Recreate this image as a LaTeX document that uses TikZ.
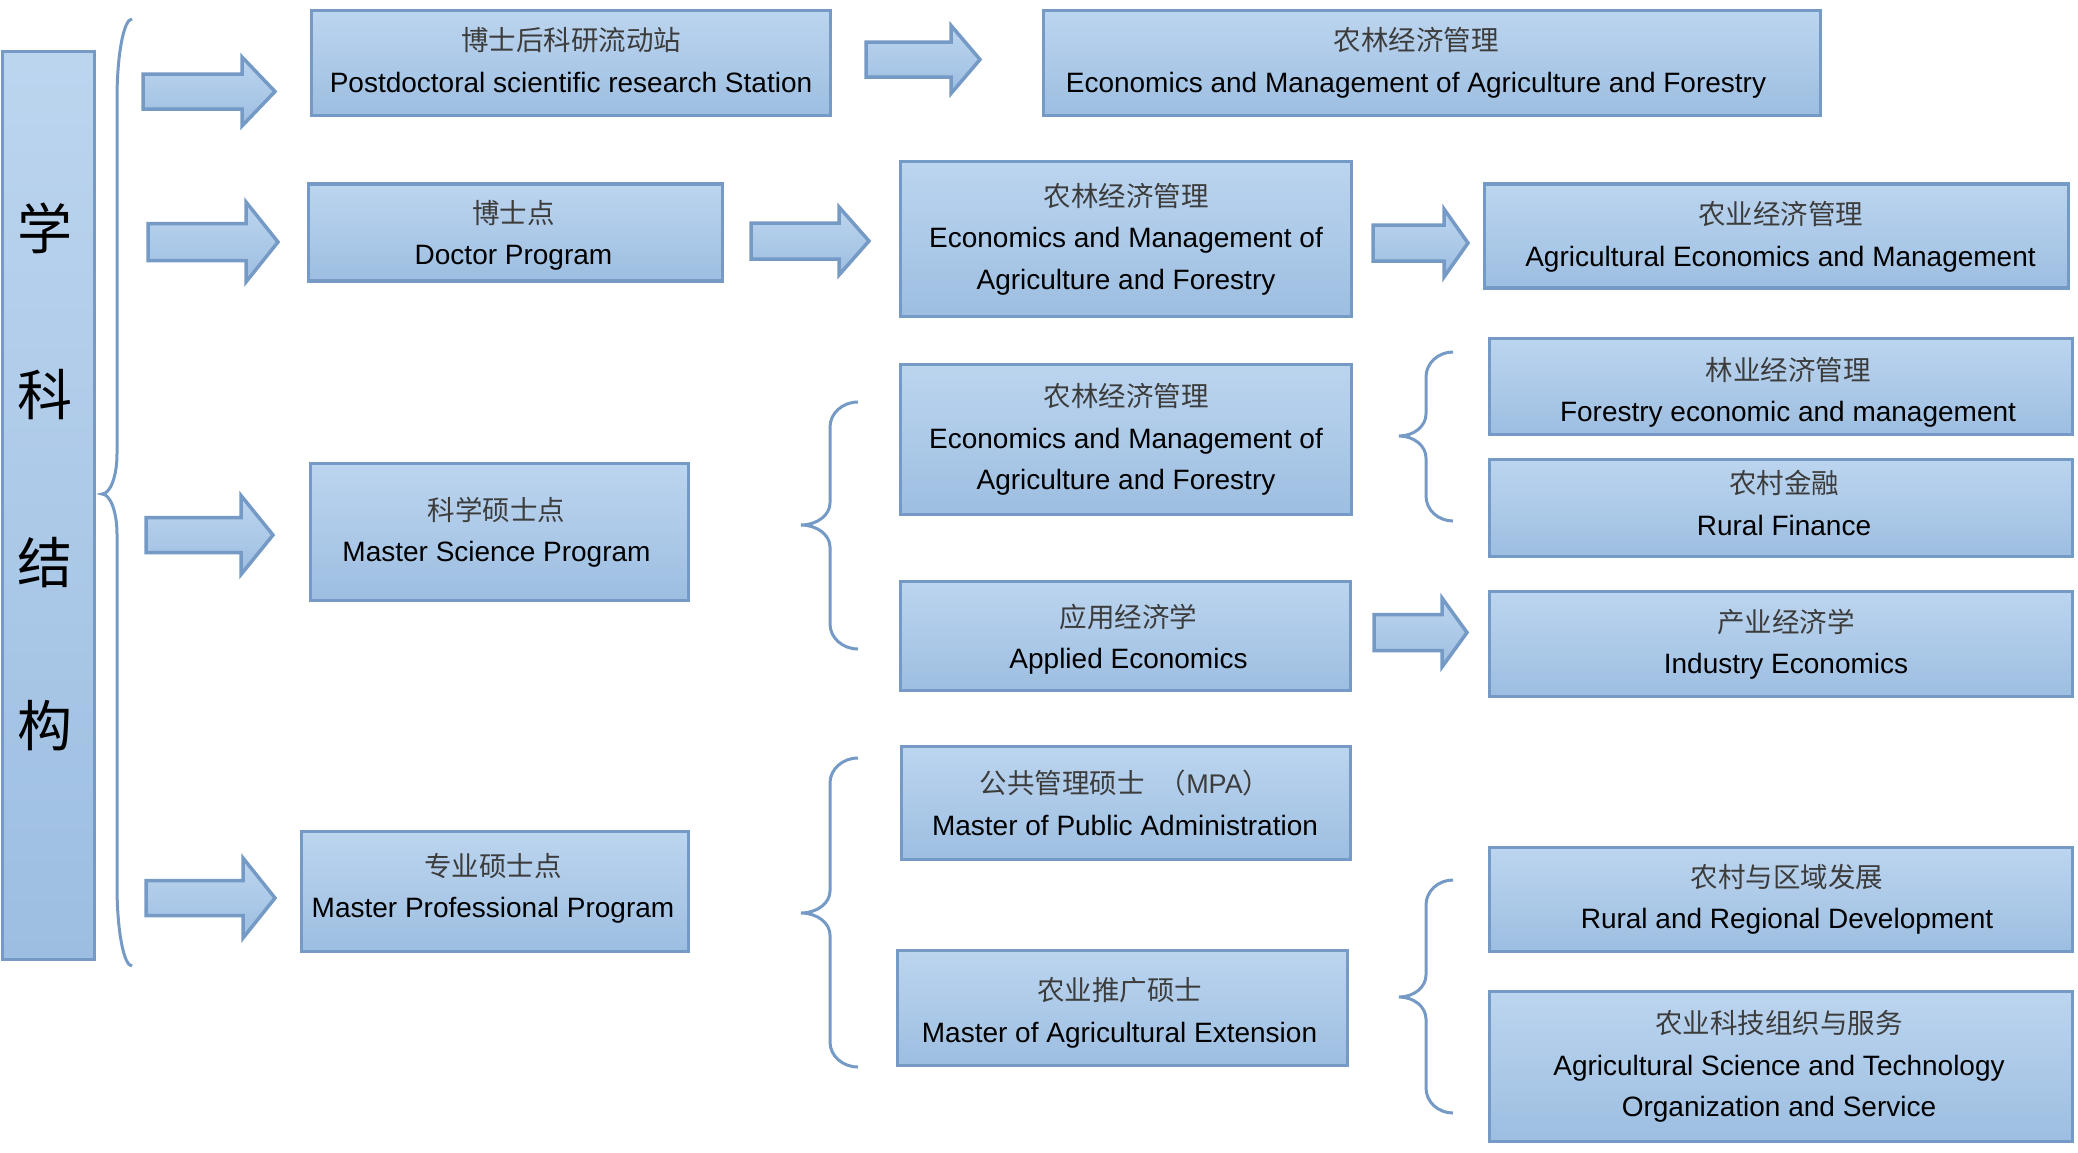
\documentclass[tikz,border=0pt]{standalone}
\usepackage{fontspec}
\setmainfont{Liberation Sans}
\newfontfamily\cjk{Noto Sans CJK SC}
\definecolor{bordc}{RGB}{116,154,197}
\definecolor{topc}{RGB}{188,213,239}
\definecolor{botc}{RGB}{157,190,225}
\definecolor{cjkc}{RGB}{60,60,60}
\tikzset{
  box/.style={draw=bordc, line width=3.5pt, top color=topc, bottom color=botc, inner sep=0pt},
  boxtext/.style={inner sep=0pt, align=center, font=\fontsize{28}{41.5}\selectfont},
  blockarrow/.style={draw=bordc, line width=3.5pt, top color=topc, bottom color=botc, line join=miter},
  bracec/.style={draw=bordc, line width=3pt},
  bigchar/.style={font=\cjk\fontsize{55}{60}\selectfont, text=black, inner sep=0pt},
}
\newcommand{\cn}[1]{{\cjk\color{cjkc}\fontsize{27.5}{41.5}\selectfont #1}}
% box: name, cx, cy, w, h, dx, dy, text
\newcommand{\bx}[8]{\node[box, minimum width=#4pt, minimum height=#5pt] (#1) at (#2,#3) {};
  \node[boxtext] (#1-t) at ([xshift=#6pt,yshift=#7pt]#1.center) {#8};}
% block arrow: x0, xbase, xtip, ycenter, shaft half, head half
\newcommand{\barrow}[6]{\path[blockarrow] (#1,#4-#5) -- (#2,#4-#5) -- (#2,#4-#6) -- (#3,#4) -- (#2,#4+#6) -- (#2,#4+#5) -- (#1,#4+#5) -- cycle;}
% brace: xe, xv, xt, y1, ym, y2, rEnd, rMid
\newcommand{\brc}[8]{\draw[bracec]
  (#1,#4) .. controls ({#1-0.552*(#1-#2)},#4) and (#2,{#4+0.448*#7}) .. (#2,{#4+#7})
  -- (#2,{#5-#8}) .. controls (#2,{#5-0.448*#8}) and ({#3+0.552*(#2-#3)},#5) .. (#3,#5)
  .. controls ({#3+0.552*(#2-#3)},#5) and (#2,{#5+0.448*#8}) .. (#2,{#5+#8})
  -- (#2,{#6-#7}) .. controls (#2,{#6-0.448*#7}) and ({#1-0.552*(#1-#2)},#6) .. (#1,#6);}
\begin{document}
\begin{tikzpicture}[x=1pt,y=-1pt]
\useasboundingbox (0,0) rectangle (2078,1152);
% left column
\node[box, minimum width=92pt, minimum height=908pt] (lft) at (48.5,505.5) {};
\node[bigchar] (c1) at (45,228) {学};
\node[bigchar] (c2) at (45,395) {科};
\node[bigchar] (c3) at (45,563) {结};
\node[bigchar] (c4) at (45,726) {构};
\brc{132}{117}{102}{19}{494}{966}{80}{40}
% boxes (yshift positive = up)
\bx{post}{571}{63}{519}{105}{0}{3}{\cn{博士后科研流动站}\\Postdoctoral scientific research Station}
\bx{af1}{1432}{63}{777}{105}{-16}{0}{\cn{农林经济管理}\\Economics and Management of Agriculture and Forestry}
\bx{doc}{515.5}{232.5}{414}{97}{-2}{-3}{\cn{博士点}\\Doctor Program}
\bx{af2}{1126}{239}{451}{155}{0}{0}{\cn{农林经济管理}\\Economics and Management of\\Agriculture and Forestry}
\bx{aem}{1776.5}{236}{584}{104}{4}{-1}{\cn{农业经济管理}\\Agricultural Economics and Management}
\bx{msc}{499.5}{532}{378}{137}{-3}{0}{\cn{科学硕士点}\\Master Science Program}
\bx{af3}{1126}{439.5}{451}{150}{0}{0}{\cn{农林经济管理}\\Economics and Management of\\Agriculture and Forestry}
\bx{fem}{1781}{386.5}{583}{96}{7}{-6}{\cn{林业经济管理}\\Forestry economic and management}
\bx{rf}{1781}{508}{583}{97}{3}{5}{\cn{农村金融}\\Rural Finance}
\bx{ae}{1125.5}{636}{450}{109}{3}{-3}{\cn{应用经济学}\\Applied Economics}
\bx{ie}{1781}{644}{583}{105}{5}{0}{\cn{产业经济学}\\Industry Economics}
\bx{mprof}{495}{891.5}{387}{120}{-2}{3}{\cn{专业硕士点}\\Master Professional Program}
\bx{mpa}{1126}{803}{449}{113}{-1}{0}{{\color{cjkc}\cn{公共管理硕士\hspace{14pt}（}\fontsize{27}{41.5}\selectfont MPA\cn{）}}\\Master of Public Administration}
\bx{mae}{1122.5}{1008}{450}{115}{-3}{-5}{\cn{农业推广硕士}\\Master of Agricultural Extension}
\bx{rrd}{1781}{899.5}{583}{104}{6}{0}{\cn{农村与区域发展}\\Rural and Regional Development}
\bx{ast}{1781}{1066.5}{583}{150}{-2}{0}{\cn{农业科技组织与服务}\\Agricultural Science and Technology\\Organization and Service}
% arrows
\barrow{143}{242}{275}{91.5}{17.5}{34.5}
\barrow{148}{246}{278}{242}{18.5}{40}
\barrow{146}{241}{273}{535}{17.5}{39.5}
\barrow{146}{243}{275}{898}{17.5}{40}
\barrow{866}{951}{980}{59.5}{17.5}{34}
\barrow{751}{839}{869}{241}{18}{34}
\barrow{1373}{1444}{1468}{243}{18}{34}
\barrow{1374}{1442}{1467}{632.5}{18}{34.5}
% braces
\brc{858}{830}{801}{402}{525}{649}{25}{22}
\brc{1453}{1426}{1399}{352}{436}{521}{25}{22}
\brc{858}{830}{801}{758}{913}{1067}{25}{22}
\brc{1453}{1426}{1399}{880}{997}{1113}{25}{22}
\end{tikzpicture}
\end{document}
